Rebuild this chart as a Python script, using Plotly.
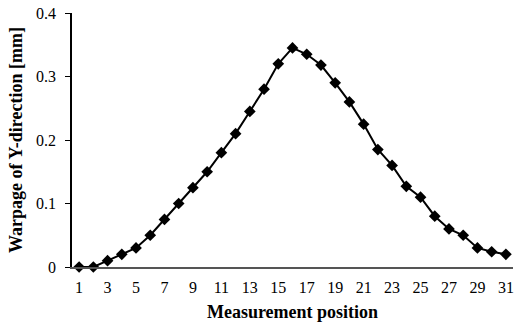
import plotly.graph_objects as go

positions = list(range(1, 32))
warpage = [0.0, 0.0, 0.01, 0.02, 0.03, 0.05, 0.075, 0.1, 0.125, 0.15,
           0.18, 0.21, 0.245, 0.28, 0.32, 0.345, 0.335, 0.318, 0.29, 0.26,
           0.225, 0.185, 0.16, 0.127, 0.11, 0.08, 0.06, 0.05, 0.03, 0.024, 0.02]
x_ticks = list(range(1, 32, 2))
y_ticks = [0, 0.1, 0.2, 0.3, 0.4]
y_ticktext = ["0", "0.1", "0.2", "0.3", "0.4"]

font_family = "Liberation Serif, Times New Roman, serif"

fig = go.Figure(go.Scatter(
    x=positions, y=warpage, mode="lines+markers",
    line=dict(color="black", width=2),
    marker=dict(symbol="diamond", size=9, color="black"),
    showlegend=False, cliponaxis=False,
))

fig.update_layout(
    width=514, height=322,
    margin=dict(l=72, r=1, t=13, b=55),
    paper_bgcolor="white", plot_bgcolor="white",
    font=dict(family=font_family, size=16, color="black"),
    xaxis=dict(
        range=[0.5, 31.5], tickvals=x_ticks, ticks="", showgrid=False,
        zeroline=False, showline=True, linecolor="#555555", linewidth=1.5,
        tickfont=dict(size=16), ticklabelstandoff=5,
        title=dict(text="<b>Measurement position</b>", font=dict(size=18), standoff=10),
    ),
    yaxis=dict(
        range=[0, 0.4], tickvals=y_ticks, ticktext=y_ticktext, ticks="outside",
        ticklen=5, tickcolor="black", showgrid=False, zeroline=False,
        showline=True, linecolor="black", linewidth=1.5,
        tickfont=dict(size=16), ticklabelstandoff=6,
        title=dict(text="<b>Warpage of Y-direction [mm]</b>", font=dict(size=18), standoff=9),
    ),
)

fig.write_html("out.html")
